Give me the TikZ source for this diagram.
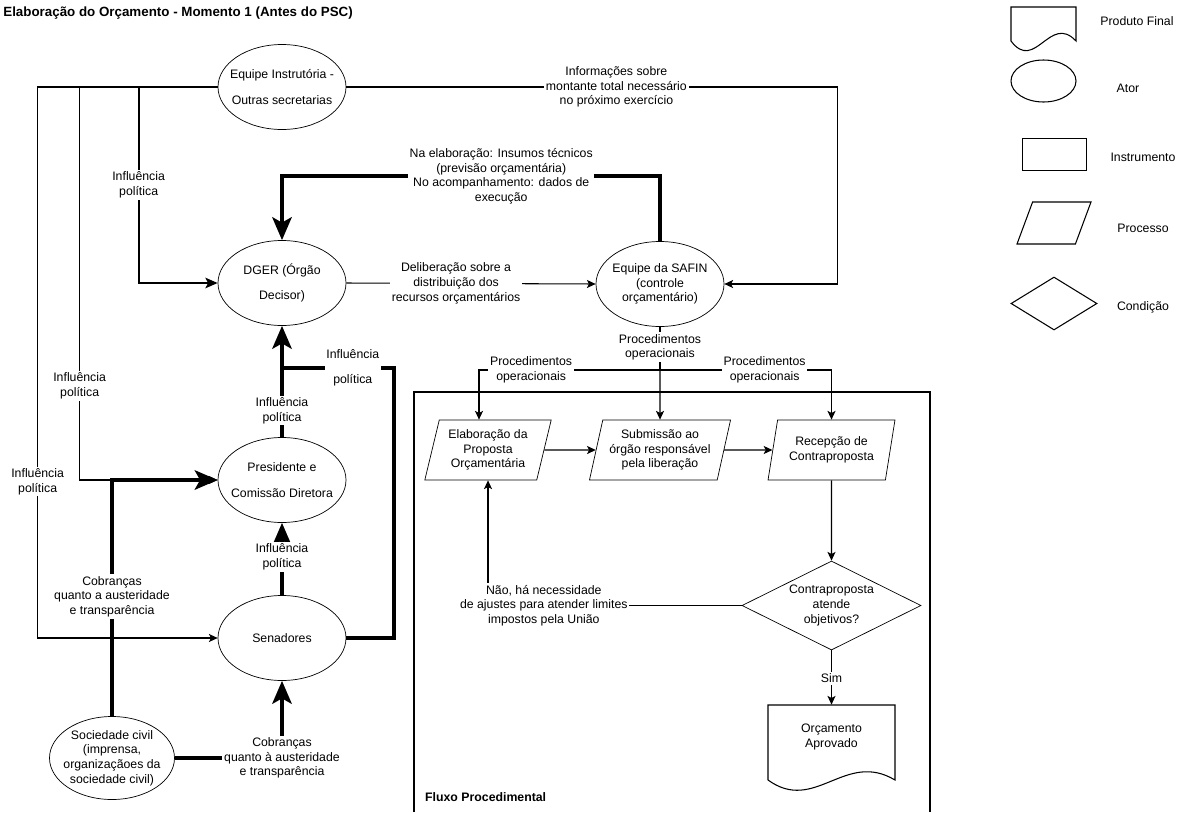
\documentclass[tikz,border=0pt]{standalone}
\usepackage{fontspec}
\setmainfont{Liberation Sans}
\usetikzlibrary{shapes.geometric,arrows.meta}
\newlength\pxu
\setlength\pxu{0.02cm}
\newcommand\fntdiag{\fontsize{7}{8.4}\selectfont}
\tikzset{
  txt/.style={font=\fntdiag, align=center},
  ator/.style={txt, draw, ellipse, minimum width=128\pxu, minimum height=85\pxu, inner xsep=-12\pxu, inner ysep=-2\pxu},
  processo/.style={txt, draw, trapezium, trapezium left angle=74, trapezium right angle=106, trapezium stretches=true, minimum width=127\pxu, minimum height=60\pxu, inner sep=0pt},
  condicao/.style={txt, draw, diamond, aspect=2, minimum width=179\pxu, minimum height=89\pxu, inner sep=0pt},
  rotulo/.style={txt, fill=white, inner sep=1pt},
  fino/.style={line width=0.6pt},
  medio/.style={line width=1.1pt},
  grosso/.style={line width=2.3pt},
  seta/.style={-{Stealth[length=5pt,width=4.6pt,inset=1.2pt]}},
  setam/.style={-{Stealth[length=7pt,width=6pt,inset=1.6pt]}},
  setag/.style={-{Stealth[length=13pt,width=11pt,inset=3pt]}},
}
\begin{document}
\begin{tikzpicture}[x=1\pxu, y=-1\pxu]
\useasboundingbox (0,0) rectangle (1184,812);

\node[anchor=west, inner sep=0pt, font=\fontsize{7.6}{9}\selectfont\bfseries] (titulo) at (3,13) {Elaboração do Orçamento - Momento 1 (Antes do PSC)};

% atores
\node[ator] (eqi) at (282,87) {Equipe Instrutória -\\[6pt]Outras secretarias};
\node[ator] (dger) at (282,283) {DGER (Órgão\\[6pt]Decisor)};
\node[ator] (safin) at (660,284) {Equipe da SAFIN\\(controle\\orçamentário)};
\node[ator] (pres) at (282,480) {Presidente e\\[6pt]Comissão Diretora};
\node[ator] (sen) at (282,638) {Senadores};
\node[ator, minimum width=125\pxu, minimum height=83\pxu] (soc) at (112,758) {Sociedade civil\\(imprensa,\\organizaçãoes da\\sociedade civil)};

% fluxo procedimental
\draw[fino] (414,812) -- (414,392) -- (930,392) -- (930,812);
\node[anchor=west, font=\fntdiag\bfseries] (fluxo) at (419,797) {Fluxo Procedimental};
\node[processo] (elab) at (488,450) {Elaboração da\\Proposta\\Orçamentária};
\node[processo, minimum width=142\pxu] (sub) at (660,450) {Submissão ao\\órgão responsável\\pela liberação};
\node[processo] (rec) at (831.5,450) {Recepção de\\Contraproposta};
\node[condicao] (cond) at (831.5,605.5) {Contraproposta\\atende\\objetivos?};
\node[txt, minimum width=127\pxu, minimum height=64\pxu] (orc) at (831.5,737) {Orçamento\\Aprovado};
\draw[fino] (768,780) -- (768,705) -- (895,705) -- (895,780) .. controls (845,750) and (815,814) .. (768,780);

% legenda
\draw[fino] (1011,41) -- (1011,7) -- (1076,7) -- (1076,41) .. controls (1050,13) and (1035,73) .. (1011,41);
\node[txt] (lgDocTxt) at (1137,21) {Produto Final};
\node[draw, fino, ellipse, minimum width=65\pxu, minimum height=42\pxu] (lgAtor) at (1043.5,81) {};
\node[txt] (lgAtorTxt) at (1128,88) {Ator};
\node[draw, fino, minimum width=64\pxu, minimum height=32\pxu] (lgInstr) at (1054.3,154.3) {};
\node[txt] (lgInstrTxt) at (1143,157) {Instrumento};
\node[draw, fino, trapezium, trapezium left angle=70, trapezium right angle=110, trapezium stretches=true, minimum width=74\pxu, minimum height=42\pxu] (lgProc) at (1054,223) {};
\node[txt] (lgProcTxt) at (1143,228) {Processo};
\node[draw, fino, diamond, minimum width=86\pxu, minimum height=53\pxu, inner sep=0pt] (lgCond) at (1054,303.5) {};
\node[txt] (lgCondTxt) at (1143,307) {Condição};

% equipe instrutoria
\path[draw,fino,seta] (eqi.west) -- ++(-138,0) |- node[rotulo,pos=0.38] {Influência\\política} (pres.west);
\path[draw,fino,seta] (eqi.west) -- ++(-180,0) |- node[rotulo,pos=0.358] {Influência\\política} (sen.west);
\path[draw,medio,setam] (eqi.west) -- ++(-79,0) |- node[rotulo,pos=0.25] {Influência\\política} (dger.west);
\path[draw,fino,seta] (eqi.east) -- node[rotulo,pos=0.55] {Informações sobre\\montante total necessário\\no próximo exercício} ++(491,0) |- (safin.east);

% DGER e SAFIN
\path[draw,fino,seta] (dger.east) -- node[rotulo,pos=0.44] {Deliberação sobre a\\distribuição dos\\recursos orçamentários} (safin.west);
\path[draw,grosso,setag] (safin.north) -- ++(0,-65) -| node[rotulo,pos=0.21] {Na elaboração: Insumos técnicos\\(previsão orçamentária)\\No acompanhamento: dados de\\execução} (dger.north);

% influencia politica
\coordinate (juncao) at (282,368);
\path[draw,grosso,setag] (pres.north) -- node[rotulo,pos=0.24] {Influência\\política} (dger.south);
\path[draw,grosso,setag] (sen.north) -- node[rotulo,pos=0.53] {Influência\\política} (pres.south);
\path[draw,grosso] (sen.east) -- ++(48,0) |- node[rotulo,pos=0.685] {Influência\\[6pt]política} (juncao);

% sociedade civil
\path[draw,grosso,setag] (soc.north) |- node[rotulo,pos=0.253] {Cobranças\\quanto a austeridade\\e transparência} (pres.west);
\path[draw,grosso,setag] (soc.east) -| node[rotulo] {Cobranças\\quanto à austeridade\\e transparência} (sen.south);

% procedimentos
\coordinate (ramo) at (660,370);
\coordinate (ramoE) at (479,370);
\path[draw,fino,seta] (safin.south) -- (ramo) -| node[rotulo,pos=0.356] {Procedimentos\\operacionais} (elab.north -| ramoE);
\path[draw,fino,seta] (safin.south) -- (ramo) -| node[rotulo,pos=0.305] {Procedimentos\\operacionais} (rec.north);
\path[draw,fino,seta] (safin.south) -- node[rotulo,pos=0.22] {Procedimentos\\operacionais} (sub.north);

\path[draw,fino,seta] (elab.east) -- (sub.west);
\path[draw,fino,seta] (sub.east) -- (rec.west);
\path[draw,fino,seta] (rec.south) -- (cond.north);
\path[draw,fino,seta] (cond.west) -| node[rotulo,pos=0.39] {Não, há necessidade\\de ajustes para atender limites\\impostos pela União} (elab.south);
\path[draw,fino,seta] (cond.south) -- node[rotulo,pos=0.52] {Sim} (orc.north);
\end{tikzpicture}
\end{document}
